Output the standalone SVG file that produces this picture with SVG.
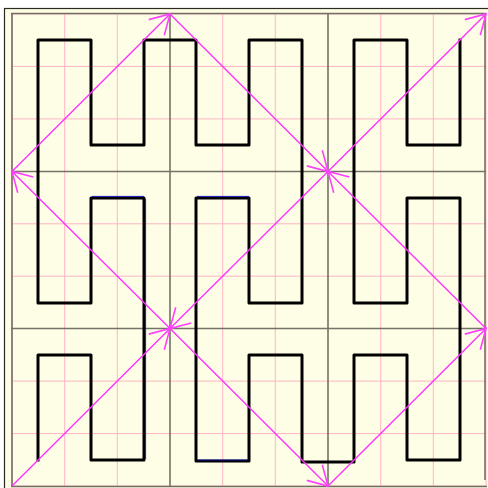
<svg xmlns="http://www.w3.org/2000/svg" width="488" height="488" viewBox="0 0 488 488">
<defs>
<style>
.minor{stroke:#ffb4c4;stroke-width:1;fill:none}
.major{stroke:#5a5a50;stroke-width:1.6;fill:none;opacity:0.85}
.curve{stroke:#000;stroke-width:3;fill:none;stroke-linejoin:round;stroke-linecap:square}
.blue{stroke:#1010d0;stroke-width:1;fill:none}
.arr{stroke:#ff33ff;stroke-width:1.4;fill:none;marker-end:url(#head)}
</style>
<marker id="head" viewBox="-22 -14 24 28" markerWidth="24" markerHeight="28" refX="0" refY="0" orient="auto" markerUnits="userSpaceOnUse">
<path d="M-19,-11 L0,0 L-19,11" stroke="#ff40ff" stroke-width="1.6" fill="none"/>
</marker>
</defs>
<rect x="0" y="0" width="488" height="488" fill="#ffffff"/>
<rect x="4.5" y="8.5" width="500" height="500" fill="#fefee6" stroke="#2a2a20" stroke-width="1.2"/>
<g id="grid">
<path class="minor" d="M12,14H486M12,66.4H486M12,118.9H486M12,223.8H486M12,276.2H486M12,381.1H486M12,433.6H486M12,486H486
M12,14V486M64.7,14V486M117.3,14V486M222.7,14V486M275.3,14V486M380.7,14V486M433.3,14V486M486,14V486"/>
<path class="major" d="M12,13V487M170,14V486M328,14V486M485,14V480M11,171.5H486M11,328.5H486M11,486.5H487M11,13.5H486"/>
</g>
<g id="curve">
<path class="curve" d="M38,460V355H91V460H144V198H91V303H38V40H91V145H144V40H196V145H249V40H302V303H249V198H196V461H249V355H302V462H354V460H354V355H407V460H460V198H407V303H354V40H407V145H460V40"/>
<path class="blue" d="M92,196.4H144M145.6,199V459M197,196.4H249" opacity="0.9"/>
<path class="blue" d="M198,460H248" opacity="0.7"/>
</g>
<g id="connectors">
<path class="arr" d="M12,486L170,328.5"/>
<path class="arr" d="M170,328.5L328,486"/>
<path class="arr" d="M328,486L486,328.5"/>
<path class="arr" d="M486,328.5L328,171.5"/>
<path class="arr" d="M328,171.5L170,328.5"/>
<path class="arr" d="M170,328.5L12,171.5"/>
<path class="arr" d="M12,171.5L170,14"/>
<path class="arr" d="M170,14L328,171.5"/>
<path class="arr" d="M328,171.5L486,14"/>
</g>
</svg>
